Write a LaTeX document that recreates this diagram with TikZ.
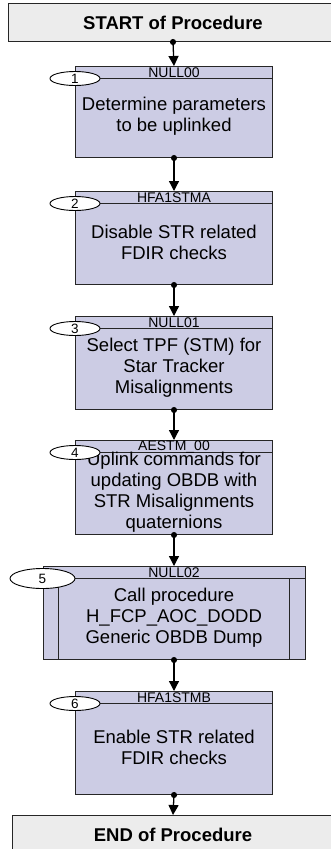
\documentclass[tikz,border=0pt]{standalone}
\usepackage{fontspec}
\setmainfont{Liberation Sans}
\usetikzlibrary{arrows.meta}
\usetikzlibrary{shapes.geometric}
\definecolor{steplav}{RGB}{204,204,228}
\definecolor{termgray}{RGB}{236,236,236}

\tikzset{
  stepbox/.style={draw=black!85, fill=steplav, line width=1pt, minimum width=197pt, anchor=north, inner sep=0pt},
  termbox/.style={draw=black!85, fill=termgray, line width=1pt, anchor=north, minimum height=38pt,
    font=\bfseries\fontsize{18.5}{21}\selectfont},
  numtag/.style={ellipse, draw=black, fill=white, line width=0.9pt, minimum width=50pt, minimum height=14pt,
    inner sep=0pt, font=\fontsize{13.5}{13.5}\selectfont},
  steptext/.style={align=center, font=\fontsize{18.5}{21}\selectfont},
  stepid/.style={inner sep=0pt, font=\fontsize{14}{14}\selectfont},
  flow/.style={{Circle[length=6pt]}-{Triangle[width=10pt,length=10pt]}, line width=1.3pt, shorten <=-3pt}
}

\begin{document}
\begin{tikzpicture}[x=1pt,y=-1pt]
\useasboundingbox (0,0) rectangle (330,849);

\node[termbox, minimum width=330pt] (start) at (173,3) {START of Procedure};
\node[termbox, minimum width=322pt] (end) at (173,815) {END of Procedure};

% plain steps
\foreach \n/\t/\b/\id/\txt in {
  1/66/157/NULL00/{Determine parameters\\to be uplinked},
  2/191/284/HFA1STMA/{Disable STR related\\FDIR checks},
  3/316/409/NULL01/{Select TPF (STM) for\\Star Tracker\\Misalignments},
  4/440/534/AESTM\_00/{Uplink commands for\\updating OBDB with\\STR Misalignments\\quaternions},
  6/691/794/HFA1STMB/{Enable STR related\\FDIR checks}}{
  \node[stepbox, minimum height=\b-\t] (b\n) at (174,\t) {};
  \draw[line width=1pt, draw=black!85] ([yshift=-12.5pt]b\n.north west) -- ([yshift=-12.5pt]b\n.north east);
  \node[stepid] (id\n) at ([yshift=-6.5pt]b\n.north) {\id};
  \node[steptext] (t\n) at (174,{(\t+\b)/2+5}) {\txt};
  \node[numtag] (n\n) at ([yshift=-12.5pt]b\n.north west) {\n};
}

% called procedure
\node[stepbox, minimum width=262pt, minimum height=93pt] (b5) at (174,566) {};
\draw[line width=1pt, draw=black!85] ([yshift=-12.5pt]b5.north west) -- ([yshift=-12.5pt]b5.north east);
\draw[line width=1pt, draw=black!85] ([shift={(16pt,-12.5pt)}]b5.north west) -- ([xshift=16pt]b5.south west);
\draw[line width=1pt, draw=black!85] ([shift={(-16pt,-12.5pt)}]b5.north east) -- ([xshift=-16pt]b5.south east);
\node[stepid] (id5) at ([yshift=-6.5pt]b5.north) {NULL02};
\node[steptext] (t5) at (174,618) {Call procedure\\H\_FCP\_AOC\_DODD\\Generic OBDB Dump};
\node[numtag, minimum width=65pt, minimum height=20pt] (n5) at ([yshift=-12.5pt]b5.north west) {5};

\foreach \u/\v in {start/b1, b1/b2, b2/b3, b3/b4, b4/b5, b5/b6, b6/end}
  \draw[flow] (\u.south) -- (\v.north);

\end{tikzpicture}
\end{document}
